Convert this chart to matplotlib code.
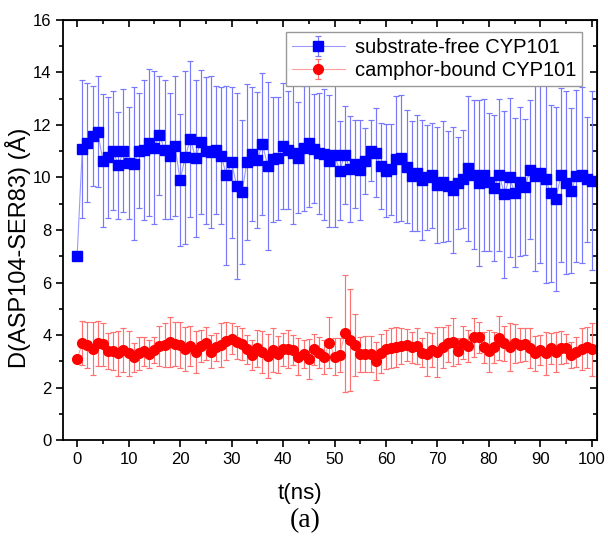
import matplotlib
matplotlib.use("Agg")
import matplotlib.pyplot as plt
from matplotlib.ticker import MultipleLocator
import numpy as np

plt.rcParams['font.family'] = ['Liberation Sans', 'DejaVu Sans']

t = np.arange(0, 101)

free_d = [7.02, 11.07, 11.33, 11.59, 11.75, 10.64, 10.77, 11.02, 10.46, 11.02,
          10.54, 10.53, 11.02, 11.05, 11.33, 11.14, 11.6, 11.06, 10.82, 11.2,
          9.9, 10.77, 11.48, 10.73, 11.35, 11.02, 10.98, 11.05, 10.83, 10.08,
          10.58, 9.68, 9.43, 10.59, 10.9, 10.67, 11.28, 10.45, 10.69, 10.73,
          11.21, 11.05, 10.95, 10.76, 11.11, 11.3, 11.09, 10.92, 10.88, 10.64,
          10.86, 10.26, 10.86, 10.31, 10.5, 10.29, 10.63, 11.02, 10.95, 10.44,
          10.25, 10.31, 10.69, 10.73, 10.41, 10.06, 10.18, 9.9, 10.0, 10.08,
          9.71, 9.84, 9.68, 9.52, 9.8, 9.94, 10.35, 10.1, 9.8, 10.1,
          9.84, 9.59, 10.1, 9.36, 10.0, 9.42, 9.84, 9.63, 10.29, 10.06,
          10.18, 9.93, 9.4, 9.18, 10.1, 9.8, 9.5, 10.06, 10.1, 9.93, 9.88]
free_err = [0.0, 2.63, 2.25, 1.9, 2.1, 2.54, 2.3, 2.26, 2.05, 2.35,
            2.13, 2.9, 2.2, 2.67, 2.8, 2.9, 2.27, 2.65, 2.4, 2.65,
            2.5, 3.3, 2.97, 3.0, 2.75, 2.8, 2.9, 2.45, 2.6, 3.4,
            2.87, 3.55, 2.74, 2.97, 2.56, 2.59, 2.71, 3.2, 2.39, 2.35,
            2.4, 2.25, 2.73, 2.1, 2.37, 2.41, 2.07, 2.31, 2.5, 2.51,
            2.76, 1.88, 1.87, 2.02, 1.67, 1.9, 1.27, 1.15, 1.68, 1.64,
            1.77, 1.74, 2.4, 2.4, 2.16, 2.1, 2.2, 2.3, 2.0, 2.0,
            2.2, 2.3, 2.1, 2.4, 1.75, 1.86, 2.77, 2.84, 3.16, 2.9,
            2.63, 2.77, 2.89, 3.18, 3.02, 2.84, 2.83, 2.58, 2.65, 3.62,
            3.42, 3.96, 3.37, 3.49, 3.31, 3.48, 3.13, 3.27, 3.34, 2.39, 3.4]

bound_d = [3.07, 3.71, 3.62, 3.48, 3.68, 3.64, 3.39, 3.39, 3.3, 3.43,
           3.3, 3.15, 3.3, 3.39, 3.28, 3.43, 3.58, 3.61, 3.73, 3.66,
           3.62, 3.48, 3.58, 3.35, 3.58, 3.68, 3.37, 3.53, 3.62, 3.78,
           3.86, 3.73, 3.66, 3.45, 3.24, 3.49, 3.36, 3.21, 3.43, 3.26,
           3.45, 3.47, 3.43, 3.17, 3.28, 3.09, 3.45, 3.33, 3.17, 3.71,
           3.17, 3.24, 4.06, 3.81, 3.62, 3.26, 3.28, 3.28, 3.02, 3.3,
           3.45, 3.49, 3.56, 3.58, 3.62, 3.53, 3.58, 3.33, 3.28, 3.43,
           3.36, 3.53, 3.68, 3.75, 3.4, 3.71, 3.58, 3.91, 3.91, 3.53,
           3.4, 3.53, 3.88, 3.68, 3.53, 3.68, 3.62, 3.64, 3.49, 3.3,
           3.43, 3.3, 3.49, 3.36, 3.52, 3.49, 3.24, 3.36, 3.45, 3.53, 3.45]
bound_err = [0.0, 0.84, 0.89, 1.0, 0.87, 0.8, 0.7, 0.74, 0.86, 0.82,
             0.86, 0.55, 0.64, 0.55, 0.53, 0.5, 0.76, 0.83, 0.94, 0.85,
             0.88, 0.84, 0.76, 0.81, 0.62, 0.64, 0.63, 0.53, 0.85, 0.72,
             0.6, 0.63, 0.62, 0.55, 0.57, 0.7, 0.8, 0.83, 0.85, 0.7,
             0.64, 0.72, 0.57, 0.7, 0.53, 0.75, 0.59, 0.6, 0.66, 0.96,
             0.7, 0.65, 2.24, 1.95, 1.17, 0.68, 0.68, 0.68, 0.73, 0.74,
             0.74, 0.76, 0.76, 0.7, 0.6, 0.6, 0.67, 0.55, 0.85, 0.66,
             0.96, 0.79, 0.7, 0.91, 0.5, 0.63, 0.61, 0.75, 0.6, 0.6,
             0.79, 0.6, 0.84, 0.66, 0.91, 0.74, 0.63, 0.61, 0.76, 0.66,
             0.57, 0.83, 0.6, 0.77, 0.64, 0.55, 0.51, 0.58, 0.8, 0.79, 1.0]

fig = plt.figure(figsize=(6.08, 5.38), dpi=100)
ax = fig.add_axes([0.104, 0.182, 0.878, 0.781])

ax.errorbar(t, free_d, yerr=free_err, fmt='-', color='#9a9aff', lw=0.8,
            ecolor='#7878ff', elinewidth=0.85, capsize=2.5, capthick=0.85,
            marker='s', ms=6.5, mfc='#0000ff', mec='#0000ff',
            label='substrate-free CYP101')
ax.errorbar(t, bound_d, yerr=bound_err, fmt='-', color='#ffa0a0', lw=0.8,
            ecolor='#ff7070', elinewidth=0.85, capsize=2.5, capthick=0.85,
            marker='o', ms=7, mfc='#ff0000', mec='#ff0000',
            label='camphor-bound CYP101')

ax.set_xlim(-2.7, 101)
ax.set_ylim(0, 16)
ax.xaxis.set_major_locator(MultipleLocator(10))
ax.xaxis.set_minor_locator(MultipleLocator(5))
ax.yaxis.set_major_locator(MultipleLocator(2))
ax.yaxis.set_minor_locator(MultipleLocator(1))
ax.tick_params(which='both', direction='out', width=1.2, labelsize=12, colors='black')
ax.tick_params(which='major', length=5)
ax.tick_params(which='minor', length=3)
for s in ax.spines.values():
    s.set_linewidth(1.3)

# mirrored ticks on top and right, pointing in
top = ax.secondary_xaxis('top')
top.xaxis.set_major_locator(MultipleLocator(10))
top.xaxis.set_minor_locator(MultipleLocator(5))
top.tick_params(which='both', direction='in', width=1.2, labeltop=False)
top.tick_params(which='major', length=5)
top.tick_params(which='minor', length=3)
right = ax.secondary_yaxis('right')
right.yaxis.set_major_locator(MultipleLocator(2))
right.yaxis.set_minor_locator(MultipleLocator(1))
right.tick_params(which='both', direction='in', width=1.2, labelright=False)
right.tick_params(which='major', length=5)
right.tick_params(which='minor', length=3)

leg = ax.legend(loc='upper right', bbox_to_anchor=(0.972, 0.971), borderaxespad=0,
                fontsize=14.5, fancybox=False, edgecolor='#999999', framealpha=1,
                handlelength=2.6, borderpad=0.3, labelspacing=0.2, handletextpad=0.5)
leg.get_frame().set_linewidth(1.0)

fig.text(18 / 608, 1 - 248 / 538, 'D(ASP104-SER83) (Å)', rotation=90,
         ha='center', va='center', fontsize=17)
fig.text(300 / 608, 1 - 493 / 538, 't(ns)', ha='center', va='center', fontsize=16)
fig.text(305 / 608, 1 - 521 / 538, '(a)', ha='center', va='center', fontsize=20,
         family=['Liberation Serif', 'DejaVu Serif'])

fig.savefig('out.png', dpi=100)
